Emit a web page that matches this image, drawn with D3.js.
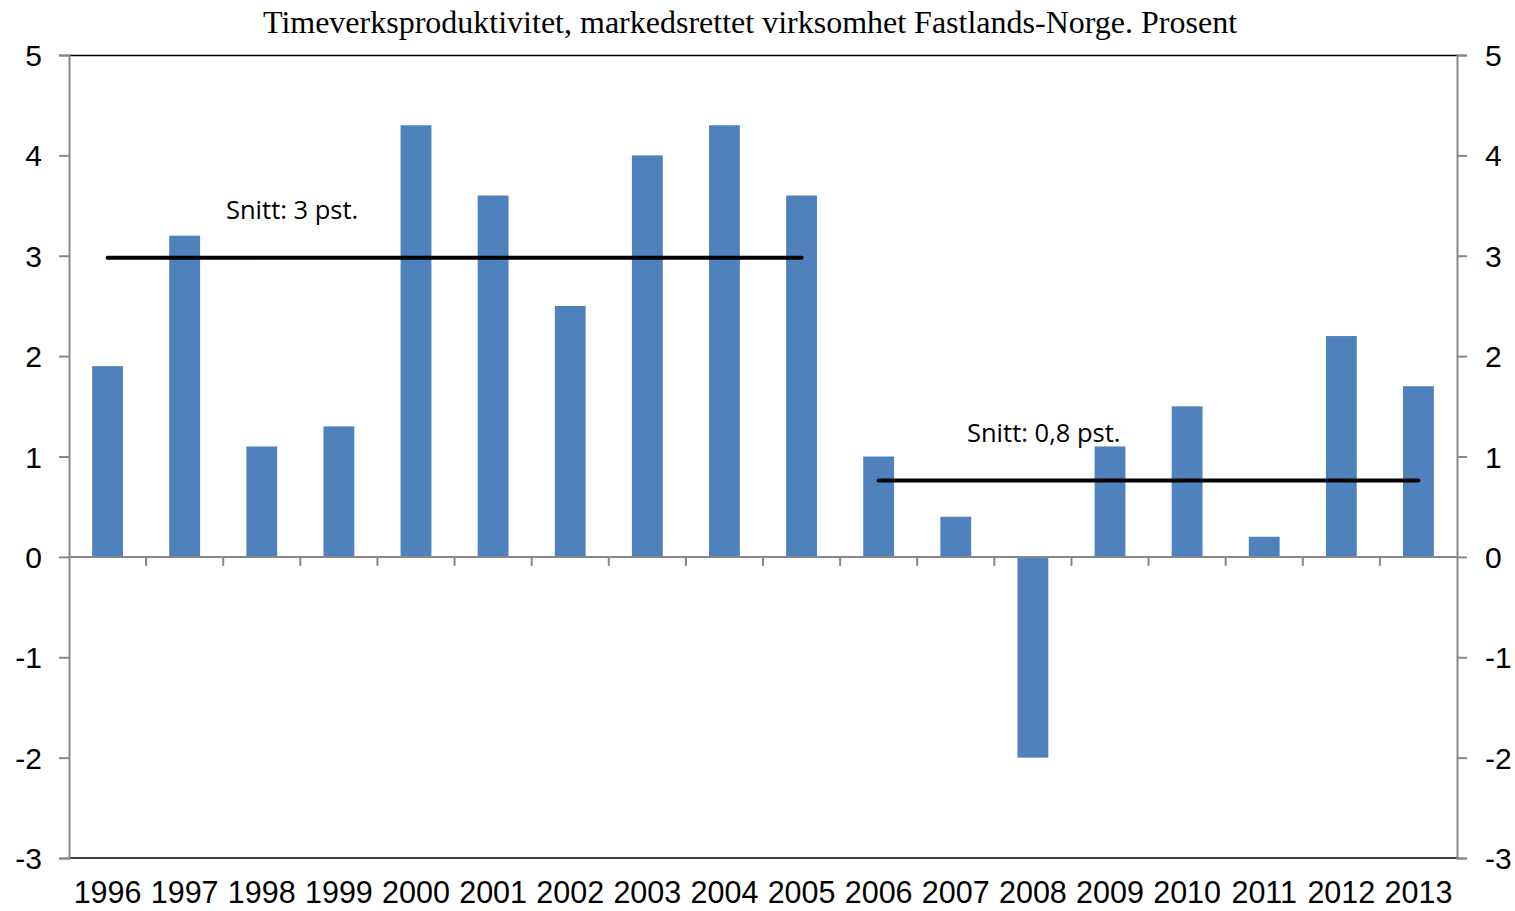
<!DOCTYPE html>
<html><head><meta charset="utf-8">
<script src="https://cdn.jsdelivr.net/npm/d3@7"></script>
<style>body{margin:0;background:#fff}</style>
</head><body>
<svg id="c" width="1515" height="911"></svg>
<script>
const years = ["1996","1997","1998","1999","2000","2001","2002","2003","2004","2005","2006","2007","2008","2009","2010","2011","2012","2013"];
const values = [1.9,3.2,1.1,1.3,4.3,3.6,2.5,4.0,4.3,3.6,1.0,0.4,-2.0,1.1,1.5,0.2,2.2,1.7];
const yTicks = [-3,-2,-1,0,1,2,3,4,5];
const averages = [
  {from:"1996", to:"2005", value:2.98, label:"Snitt: 3 pst."},
  {from:"2006", to:"2013", value:0.76, label:"Snitt: 0,8 pst."}
];
const title = "Timeverksproduktivitet, markedsrettet virksomhet Fastlands-Norge. Prosent";

const svg = d3.select("#c");
const L = 69, R = 1457, T = 55, B = 858;
const x = d3.scaleBand().domain(years).range([L, R]).paddingInner(0.6).paddingOuter(0.3);
const xb = d3.scaleBand().domain(years).range([L, R]);
const y = d3.scaleLinear().domain([-3, 5]).range([B, T]);

svg.append("text").attr("x", 750).attr("y", 33).attr("text-anchor","middle")
  .attr("font-family","Liberation Serif, Times New Roman, serif").attr("font-size", 32).text(title);

svg.selectAll("rect.bar").data(values).join("rect").attr("class","bar")
  .attr("x",(d,i)=>x(years[i])).attr("width",x.bandwidth())
  .attr("y",d=>y(Math.max(0,d))).attr("height",d=>Math.abs(y(d)-y(0)))
  .attr("fill","#4F81BD");

svg.append("line").attr("x1",L).attr("x2",R).attr("y1",T+0.5).attr("y2",T+0.5).attr("stroke","#000").attr("stroke-width",1.5);
svg.append("line").attr("x1",L).attr("x2",R).attr("y1",B).attr("y2",B).attr("stroke","#000").attr("stroke-width",1.5);

const zero = svg.append("g").attr("transform",`translate(0,${y(0)})`);
zero.append("line").attr("x1",L).attr("x2",R).attr("stroke","#888").attr("stroke-width",2);
zero.selectAll("line.t").data(years.slice(1)).join("line").attr("class","t")
  .attr("x1",d=>xb(d)).attr("x2",d=>xb(d)).attr("y1",0).attr("y2",9).attr("stroke","#888").attr("stroke-width",2);

const fmt = d => String(d);
const la = svg.append("g").attr("transform",`translate(${L},0)`)
  .call(d3.axisLeft(y).tickValues(yTicks).tickSize(10).tickFormat(fmt));
const ra = svg.append("g").attr("transform",`translate(${R},0)`)
  .call(d3.axisRight(y).tickValues(yTicks).tickSize(10).tickFormat(fmt));
[la,ra].forEach(a=>{
  a.select(".domain").attr("stroke","#888").attr("stroke-width",2);
  a.selectAll(".tick line").attr("stroke","#888").attr("stroke-width",2);
  a.selectAll(".tick text").attr("font-family","Liberation Sans, Arial, sans-serif").attr("font-size",30).attr("fill","#000").attr("dy","0.35em");
});
la.selectAll(".tick text").attr("x",-27);
ra.selectAll(".tick text").attr("x",28);

svg.selectAll("text.xl").data(years).join("text").attr("class","xl")
  .attr("x",d=>xb(d)+xb.bandwidth()/2).attr("y",903).attr("text-anchor","middle")
  .attr("font-family","Liberation Sans, Arial, sans-serif").attr("font-size",30.5).text(d=>d);

averages.forEach(a=>{
  svg.append("line")
    .attr("x1",xb(a.from)+xb.bandwidth()/2).attr("x2",xb(a.to)+xb.bandwidth()/2)
    .attr("y1",y(a.value)).attr("y2",y(a.value))
    .attr("stroke","#000").attr("stroke-width",4).attr("stroke-linecap","round");
});
svg.append("text").attr("x",226).attr("y",219).attr("font-family","Open Sans, sans-serif").attr("font-size",25.5).text(averages[0].label);
svg.append("text").attr("x",967).attr("y",442).attr("font-family","Open Sans, sans-serif").attr("font-size",25.5).text(averages[1].label);
</script>
</body></html>
